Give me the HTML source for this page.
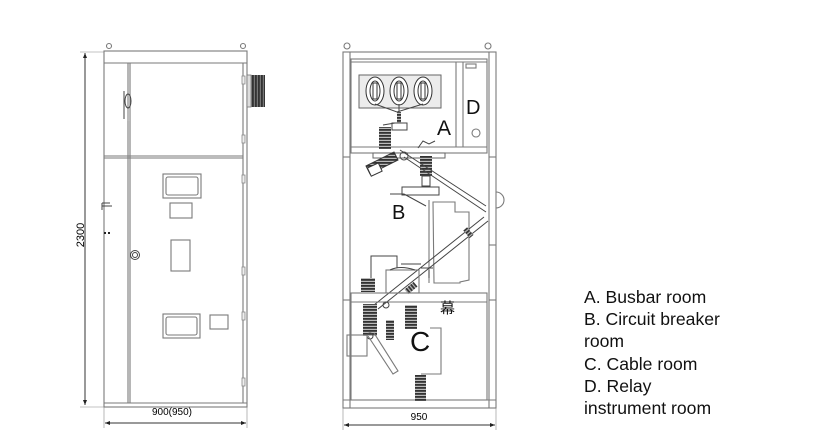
<!DOCTYPE html>
<html><head><meta charset="utf-8"><style>
html,body{margin:0;padding:0;background:#fff;width:822px;height:448px;overflow:hidden}
svg{display:block}
.l{fill:none;stroke:#7a7a7a;stroke-width:1.1}
.d{fill:none;stroke:#444;stroke-width:1}
text{font-family:"Liberation Sans",sans-serif}
</style></head><body>
<svg width="822" height="448" viewBox="0 0 822 448" xmlns="http://www.w3.org/2000/svg">
<defs>
<pattern id="st" width="4" height="3" patternUnits="userSpaceOnUse"><rect width="4" height="3" fill="#bbb"/><rect width="4" height="1.8" fill="#333"/></pattern>
<pattern id="kn" width="3" height="4" patternUnits="userSpaceOnUse"><rect width="3" height="4" fill="#777"/><rect width="1.8" height="4" fill="#333"/></pattern>
<marker id="ar" viewBox="0 0 10 10" refX="10" refY="5" markerWidth="7" markerHeight="5" orient="auto-start-reverse"><path d="M0,1L10,5L0,9z" fill="#222"/></marker>
</defs>

<!-- LEFT CABINET -->
<circle cx="109" cy="46" r="2.5" class="l"/><circle cx="243" cy="46" r="2.5" class="l"/>
<rect x="104" y="51" width="143" height="356" class="l"/>
<line x1="104" y1="63" x2="247" y2="63" class="l"/>
<line x1="104" y1="403" x2="247" y2="403" class="l"/>
<line x1="128" y1="63" x2="128" y2="403" class="l"/>
<line x1="130" y1="63" x2="130" y2="403" class="l"/>
<line x1="243" y1="63" x2="243" y2="403" class="l"/>
<line x1="104" y1="156" x2="243" y2="156" class="l"/>
<line x1="104" y1="158" x2="243" y2="158" class="l"/>
<rect x="247" y="75" width="18" height="32" fill="url(#kn)"/><rect x="247" y="75" width="4" height="32" fill="#ddd" stroke="#777" stroke-width=".8"/>
<g fill="#eee" stroke="#888" stroke-width=".8">
<rect x="242" y="76" width="3" height="8"/><rect x="242" y="135" width="3" height="8"/><rect x="242" y="175" width="3" height="8"/><rect x="242" y="267" width="3" height="8"/><rect x="242" y="312" width="3" height="8"/><rect x="242" y="378" width="3" height="8"/>
</g>
<ellipse cx="128" cy="101" rx="3" ry="7" class="d"/><line x1="124" y1="91" x2="124" y2="119" stroke="#444"/><rect x="127" y="109" width="3" height="12" fill="#bbb"/>
<path d="M102 203h8M102 203v7M102 206h10" class="d"/>
<rect x="104" y="232" width="2" height="2" fill="#222"/><rect x="108" y="232" width="2" height="2" fill="#222"/>
<circle cx="135" cy="255" r="4.5" class="d"/><circle cx="135" cy="255" r="2.5" class="d"/>
<rect x="163" y="174" width="38" height="24" class="l"/><rect x="166" y="177" width="32" height="18" rx="2" class="l"/>
<rect x="170" y="203" width="22" height="15" class="l"/>
<rect x="171" y="240" width="19" height="31" class="l"/>
<rect x="163" y="314" width="37" height="24" class="l"/><rect x="166" y="317" width="31" height="18" rx="2" class="l"/>
<rect x="210" y="315" width="18" height="14" class="l"/>
<line x1="85" y1="53" x2="85" y2="405" stroke="#333" marker-start="url(#ar)" marker-end="url(#ar)"/>
<line x1="80" y1="52" x2="104" y2="52" stroke="#888" stroke-width=".6"/><line x1="80" y1="407" x2="104" y2="407" stroke="#888" stroke-width=".6"/>
<text x="0" y="0" font-size="11" transform="translate(84,235) rotate(-90)" text-anchor="middle">2300</text>
<line x1="105" y1="423" x2="246" y2="423" stroke="#333" marker-start="url(#ar)" marker-end="url(#ar)"/>
<line x1="104" y1="407" x2="104" y2="428" stroke="#888" stroke-width=".6"/><line x1="247" y1="407" x2="247" y2="428" stroke="#888" stroke-width=".6"/>
<text x="172" y="415" font-size="10" text-anchor="middle">900(950)</text>

<!-- RIGHT CABINET -->
<circle cx="347" cy="46" r="3" class="l"/><circle cx="488" cy="46" r="3" class="l"/>
<rect x="343" y="52" width="153" height="356" class="l"/>
<line x1="350" y1="52" x2="350" y2="408" class="l"/>
<line x1="489" y1="52" x2="489" y2="408" class="l"/>
<line x1="350" y1="157" x2="343" y2="157" class="l"/><line x1="489" y1="157" x2="496" y2="157" class="l"/>
<line x1="343" y1="300" x2="350" y2="300" class="l"/><line x1="489" y1="300" x2="496" y2="300" class="l"/>
<line x1="489" y1="245" x2="496" y2="245" class="l"/>
<path d="M496 192a8 8 0 0 1 0 16" class="l"/>
<rect x="351" y="59" width="136" height="94" class="l"/>
<line x1="351" y1="62" x2="487" y2="62" class="l"/>
<line x1="456" y1="62" x2="456" y2="147" class="l"/><line x1="463" y1="62" x2="463" y2="147" class="l"/>
<line x1="351" y1="147" x2="487" y2="147" class="l"/>
<rect x="466" y="64" width="10" height="4" class="l"/>
<circle cx="476" cy="133" r="4" class="l"/>
<rect x="359" y="75" width="82" height="33" fill="#ececec" stroke="#666"/>
<g fill="#fff" stroke="#333" stroke-width="1">
<ellipse cx="375" cy="91" rx="9" ry="14"/><ellipse cx="375" cy="91" rx="5" ry="10"/><rect x="373" y="83" width="4" height="16"/>
<ellipse cx="399" cy="91" rx="9" ry="14"/><ellipse cx="399" cy="91" rx="5" ry="10"/><rect x="397" y="83" width="4" height="16"/>
<ellipse cx="423" cy="91" rx="9" ry="14"/><ellipse cx="423" cy="91" rx="5" ry="10"/><rect x="421" y="83" width="4" height="16"/>
</g>
<path d="M375 104L397 112L423 104M399 104v12" class="d"/>
<rect x="397" y="112" width="4" height="14" fill="url(#st)"/>
<rect x="392" y="123" width="15" height="7" fill="#fff" stroke="#444"/>
<path d="M383 125l12 -2" class="d"/>
<rect x="379" y="127" width="12" height="22" fill="url(#st)"/>
<path d="M418 148l5-7 6 3 6-3" class="d"/>
<rect x="373" y="153" width="72" height="5" fill="#fff" stroke="#666"/>
<circle cx="404" cy="156" r="4" class="d"/>
<path d="M366 166l28-14 4 8-28 14z" fill="url(#st)" stroke="#333"/>
<rect x="369" y="165" width="12" height="9" fill="#fff" stroke="#333" transform="rotate(-25 375 170)"/>
<rect x="420" y="156" width="12" height="20" fill="url(#st)"/>
<rect x="422" y="176" width="8" height="10" fill="#fff" stroke="#444"/>
<path d="M400 150l86 56M404 157l82 55" class="d"/>
<rect x="402" y="187" width="37" height="8" fill="#fff" stroke="#444"/>
<path d="M390 194h14M404 194l22 12" class="d"/>
<path d="M433 202h22v10h14v68l-9 2v1h-26z" class="l"/>
<line x1="429" y1="200" x2="429" y2="283" class="l"/>
<path d="M421 268h12M429 278v-8" class="d"/>
<path d="M374 305l110-88M378 309l110-88" class="d"/>
<rect x="466" y="228" width="5" height="10" fill="url(#st)" transform="rotate(-40 468 233)"/>
<rect x="408" y="282" width="6" height="12" fill="url(#st)" transform="rotate(50 411 288)"/>
<rect x="386" y="270" width="33" height="23" class="l"/>
<path d="M390 270q10 -5 25 0" class="d"/>
<path d="M371 282v-26h26v12M401 264h20" class="d"/>
<rect x="361" y="278" width="14" height="14" fill="url(#st)"/>
<rect x="351" y="293" width="136" height="107" class="l"/>
<line x1="351" y1="302" x2="487" y2="302" class="l"/>
<line x1="343" y1="400" x2="496" y2="400" class="l"/>
<rect x="363" y="304" width="14" height="32" fill="url(#st)"/>
<rect x="405" y="305" width="12" height="24" fill="url(#st)"/>
<rect x="386" y="320" width="8" height="20" fill="url(#st)"/>
<circle cx="386" cy="305" r="3" class="d"/>
<circle cx="370" cy="336" r="3" class="d"/>
<rect x="347" y="335" width="20" height="21" class="l"/>
<path d="M368 336l25 38 5-3-24-38" class="l"/>
<path d="M430 328h11v46h-20" class="l"/>
<rect x="415" y="375" width="11" height="26" fill="url(#st)"/>
<text x="437" y="135" font-size="21" fill="#111">A</text>
<text x="466" y="114" font-size="20" fill="#111">D</text>
<text x="392" y="219" font-size="20" fill="#111">B</text>
<text x="410" y="351" font-size="28" fill="#111">C</text>
<text x="440" y="313" font-size="15" fill="#111" font-family="Noto Sans CJK SC,sans-serif">幕</text>
<line x1="344" y1="425" x2="495" y2="425" stroke="#333" marker-start="url(#ar)" marker-end="url(#ar)"/>
<line x1="343" y1="408" x2="343" y2="430" stroke="#888" stroke-width=".6"/><line x1="496" y1="408" x2="496" y2="430" stroke="#888" stroke-width=".6"/>
<text x="419" y="420" font-size="10" text-anchor="middle">950</text>

<g font-size="17.6" fill="#111">
<text x="584" y="303">A. Busbar room</text>
<text x="584" y="325">B. Circuit breaker</text>
<text x="584" y="347">room</text>
<text x="584" y="370">C. Cable room</text>
<text x="584" y="392">D. Relay</text>
<text x="584" y="414">instrument room</text>
</g>
</svg>
</body></html>
